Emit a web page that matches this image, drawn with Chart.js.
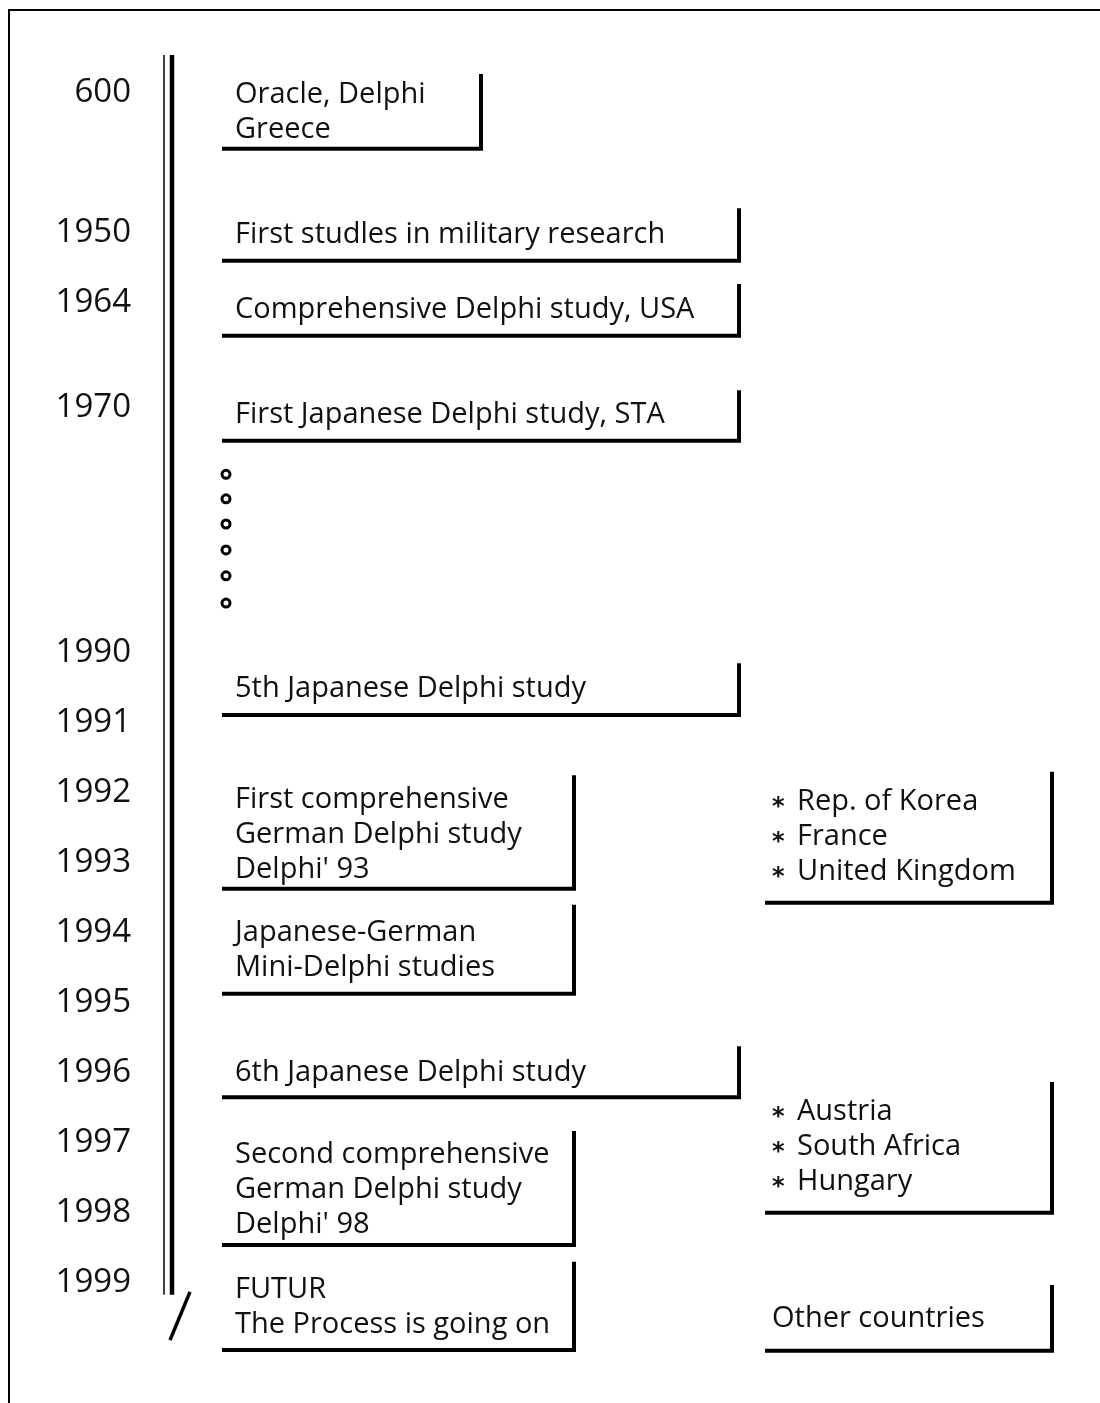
<!DOCTYPE html>
<html>
<head>
<meta charset="utf-8">
<script src="https://cdn.jsdelivr.net/npm/chart.js@4.4.1/dist/chart.umd.min.js"></script>
<style>
	body { margin: 0; background: #fff; }
	canvas { display: block; }
</style>
</head>
<body>
<canvas id="delphiTimeline" width="1100" height="1403"></canvas>
<script>
// years on the time axis and the row where each one sits
const years = ['600', '1950', '1964', '1970', '1990', '1991', '1992', '1993', '1994', '1995', '1996', '1997', '1998', '1999'];
const yearRows = [0, 2, 3, 4.5, 8, 9, 10, 11, 12, 13, 14, 15, 16, 17];

// events (text lines), their span on the time axis and the column they go in
const eventLines = [
	['Oracle, Delphi', 'Greece'],
	['First studles in military research'],
	['Comprehensive Delphi study, USA'],
	['First Japanese Delphi study, STA'],
	['5th Japanese Delphi study'],
	['First comprehensive', 'German Delphi study', "Delphi' 93"],
	['Japanese-German', 'Mini-Delphi studies'],
	['6th Japanese Delphi study'],
	['Second comprehensive', 'German Delphi study', "Delphi' 98"],
	['FUTUR', 'The Process is going on'],
	['* Rep. of Korea', '* France', '* United Kingdom'],
	['* Austria', '* South Africa', '* Hungary'],
	['Other countries']
];
const eventTextRow = [0.03, 2.03, 3.1, 4.59, 8.51, 10.1, 12.0, 14.0, 15.17, 17.09, 10.13, 14.56, 17.51];
const eventFrom = [-0.23, 1.69, 2.77, 4.29, 8.19, 9.79, 11.64, 13.66, 14.87, 16.74, 9.74, 14.17, 17.07];
const eventTo = [0.84, 2.44, 3.51, 5.01, 8.93, 11.41, 12.91, 14.39, 16.5, 18.0, 11.61, 16.04, 18.01];
const eventColumn = ['short', 'wide', 'wide', 'wide', 'wide', 'narrow', 'narrow', 'wide', 'narrow', 'narrow', 'right', 'right', 'right'];

// the "and so on" dots between 1970 and 1990
const gapDotRows = [5.49, 5.84, 6.2, 6.57, 6.94, 7.33];

// column edges in x units
const columns = {
	short: [52, 311],
	wide: [52, 569],
	narrow: [52, 404],
	right: [595, 882]
};

const textFont = '400 29px "Open Sans", sans-serif';

const timelinePlugin = {
	id: 'timeline',
	beforeDraw(chart) {
		const ctx = chart.ctx;
		const x = chart.scales.x;
		const y = chart.scales.y;
		ctx.save();
		ctx.fillStyle = '#fff';
		ctx.fillRect(0, 0, chart.width, chart.height);
		ctx.strokeStyle = '#000';
		// page frame
		ctx.lineWidth = 2;
		ctx.beginPath();
		ctx.moveTo(1100, 10);
		ctx.lineTo(9, 10);
		ctx.lineTo(9, chart.height);
		ctx.stroke();
		// time axis: thin and thick line
		const top = y.getPixelForValue(-0.5);
		const bottom = y.getPixelForValue(17.21);
		ctx.lineWidth = 1.5;
		ctx.beginPath();
		ctx.moveTo(x.left - 6, top);
		ctx.lineTo(x.left - 6, bottom);
		ctx.stroke();
		ctx.lineWidth = 4.5;
		ctx.beginPath();
		ctx.moveTo(x.left + 2, top);
		ctx.lineTo(x.left + 2, bottom);
		ctx.stroke();
		// slash at the end of the axis
		ctx.lineWidth = 3.5;
		ctx.beginPath();
		ctx.moveTo(x.getPixelForValue(20), y.getPixelForValue(17.17));
		ctx.lineTo(x.getPixelForValue(0), y.getPixelForValue(17.86));
		ctx.stroke();
		ctx.restore();
	},
	afterDatasetsDraw(chart) {
		const ctx = chart.ctx;
		const x = chart.scales.x;
		const y = chart.scales.y;
		ctx.save();
		ctx.fillStyle = '#111';
		ctx.strokeStyle = '#000';
		ctx.textBaseline = 'middle';
		ctx.textAlign = 'left';
		eventLines.forEach(function(lines, i) {
			const col = columns[eventColumn[i]];
			const x0 = x.getPixelForValue(col[0]);
			const x1 = x.getPixelForValue(col[1]);
			const y0 = y.getPixelForValue(eventFrom[i]);
			const y1 = y.getPixelForValue(eventTo[i]);
			// open box: right and bottom edge only
			ctx.lineWidth = 4;
			ctx.beginPath();
			ctx.moveTo(x1, y0);
			ctx.lineTo(x1, y1);
			ctx.lineTo(x0, y1);
			ctx.stroke();

			lines.forEach(function(line, j) {
				const ty = y.getPixelForValue(eventTextRow[i] + j * 0.5) + 3;
				let tx = x0 + (eventColumn[i] === 'right' ? 7 : 13);
				ctx.font = textFont;
				if (line.indexOf('* ') === 0) {
					ctx.font = '700 24px "DejaVu Sans", sans-serif';
					ctx.fillText('*', tx, ty + 6);
					tx += 25;
					line = line.slice(2);
					ctx.font = textFont;
				}
				ctx.fillText(line, tx, ty);
			});
		});
		ctx.restore();
	}
};

new Chart(document.getElementById('delphiTimeline'), {
	type: 'scatter',
	data: {
		datasets: [{
			data: gapDotRows.map(function(r) { return { x: 56, y: r }; }),
			pointStyle: 'circle',
			pointRadius: 4,
			pointBorderWidth: 3,
			pointBorderColor: '#000',
			pointBackgroundColor: '#fff'
		}]
	},
	options: {
		responsive: false,
		devicePixelRatio: 1,
		animation: false,
		events: [],
		layout: { padding: 0, autoPadding: false },
		plugins: {
			legend: { display: false },
			tooltip: { enabled: false }
		},
		scales: {
			x: {
				type: 'linear',
				min: 0,
				max: 930,
				display: false
			},
			y: {
				type: 'linear',
				reverse: true,
				min: -90 / 70,
				max: 1313 / 70,
				afterFit: function(scale) {
					scale.width = 170;
					scale.paddingTop = 0;
					scale.paddingBottom = 0;
				},
				afterBuildTicks: function(scale) {
					scale.ticks = yearRows.map(function(v) { return { value: v }; });
				},
				ticks: {
					padding: 39,
					labelOffset: 3,
					color: '#111',
					font: { family: 'Open Sans', size: 33, weight: 400 },
					callback: function(value) {
						return years[yearRows.indexOf(value)];
					}
				},
				grid: { display: false, drawTicks: false },
				border: { display: false }
			}
		}
	},
	plugins: [timelinePlugin]
});
</script>
</body>
</html>
